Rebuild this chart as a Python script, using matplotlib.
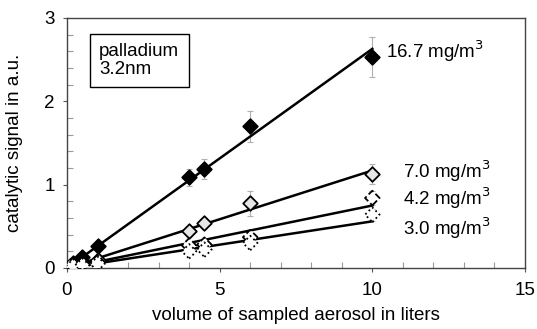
import matplotlib
matplotlib.use("Agg")
import matplotlib.pyplot as plt
import numpy as np

plt.rcParams['font.family'] = ['Liberation Sans', 'DejaVu Sans']

volume = [0.1, 0.2, 0.5, 1.0, 4.0, 4.5, 6.0, 10.0]
sig_167 = [0.03, 0.06, 0.13, 0.27, 1.09, 1.19, 1.70, 2.53]
err_167 = [0.01, 0.02, 0.03, 0.04, 0.10, 0.12, 0.19, 0.24]
sig_70 = [0.01, 0.03, 0.06, 0.10, 0.44, 0.54, 0.78, 1.13]
err_70 = [0.01, 0.01, 0.02, 0.03, 0.05, 0.06, 0.15, 0.12]
sig_42 = [0.01, 0.02, 0.04, 0.07, 0.27, 0.28, 0.37, 0.84]
err_42 = [0.01, 0.01, 0.02, 0.02, 0.04, 0.04, 0.05, 0.08]
sig_30 = [0.01, 0.02, 0.03, 0.05, 0.20, 0.22, 0.30, 0.64]
err_30 = [0.01, 0.01, 0.02, 0.02, 0.04, 0.04, 0.05, 0.07]
slopes = [0.263, 0.117, 0.075, 0.056]
labels = ["16.7 mg/m$^3$", "7.0 mg/m$^3$", "4.2 mg/m$^3$", "3.0 mg/m$^3$"]
label_pos = [(10.45, 2.60), (11.0, 1.16), (11.0, 0.84), (11.0, 0.48)]

fig = plt.figure(figsize=(5.37, 3.29), dpi=100)
ax = fig.add_axes([67/537, 1-268/329, (525-67)/537, (268-18)/329])

series = [(sig_167, err_167), (sig_70, err_70), (sig_42, err_42), (sig_30, err_30)]
styles = [dict(facecolor='black', edgecolor='black', ls='-'),
          dict(facecolor='#e6e6e6', edgecolor='black', ls='-'),
          dict(facecolor='white', edgecolor='black', ls='--'),
          dict(facecolor='white', edgecolor='black', ls=':')]

xs = np.array([0, 10])
for (s, e), st, k in zip(series, styles, slopes):
    ax.errorbar(volume, s, yerr=e, fmt='none', ecolor='#b0b0b0', elinewidth=0.8, capsize=2.5, capthick=0.8, zorder=2)
    ax.plot(xs, k * xs, color='black', lw=1.8, zorder=3)
    ax.scatter(volume, s, marker='D', s=55, facecolors=st['facecolor'], edgecolors=st['edgecolor'],
               linewidths=1.3, linestyles=st['ls'], zorder=4)

FS = 13.5
for lab, (lx, ly) in zip(labels, label_pos):
    ax.text(lx, ly, lab, fontsize=FS, ha='left', va='center')

ax.text(1.05, 2.49, "palladium\n3.2nm", fontsize=FS, ha='left', va='center', linespacing=1.05,
        bbox=dict(boxstyle='square,pad=0.5', facecolor='white', edgecolor='black', lw=1))

ax.set_xlim(0, 15)
ax.set_ylim(0, 3)
ax.set_xticks([0, 5, 10, 15])
ax.set_yticks([0, 1, 2, 3])
ax.set_xticks(np.arange(0, 16, 1), minor=True)
ax.set_yticks(np.arange(0, 3.01, 0.2), minor=True)
ax.tick_params(axis='both', which='major', labelsize=FS, direction='out', length=3, color='#555555', width=0.8)
ax.tick_params(axis='both', which='minor', direction='in', length=4, color='#999999', width=0.8)
ax.tick_params(axis='x', pad=7)
ax.tick_params(axis='y', pad=6)
for sp in ax.spines.values():
    sp.set_color('#444444')
    sp.set_linewidth(1.0)

ax.set_xlabel("volume of sampled aerosol in liters", fontsize=FS, va='center')
ax.xaxis.set_label_coords(0.5, -(315-268)/250)
ax.set_ylabel("catalytic signal in a.u.", fontsize=FS, va='center')
ax.yaxis.set_label_coords((15-67)/458, 0.5)

fig.savefig("out.png", dpi=100)
